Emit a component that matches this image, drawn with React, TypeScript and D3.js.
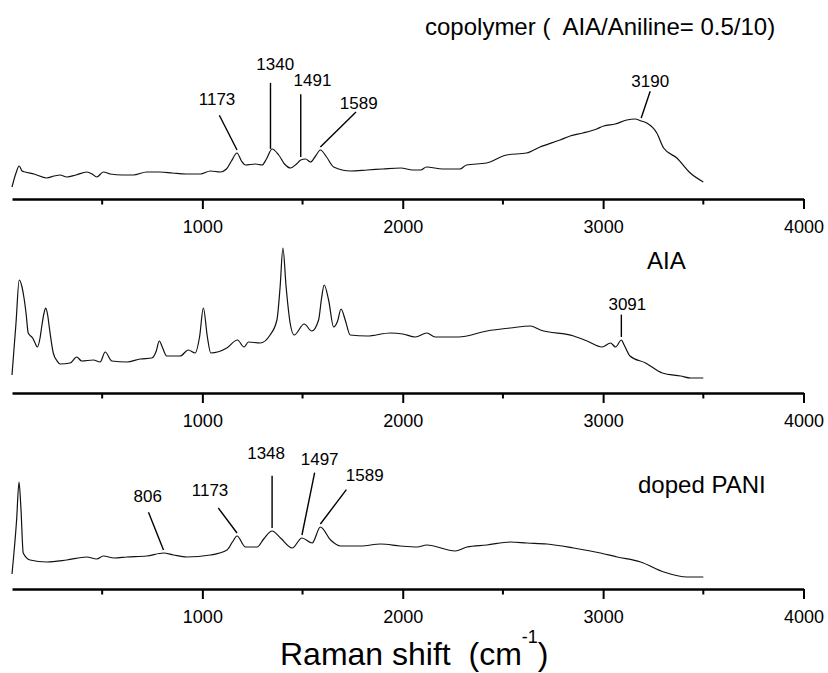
import React, { useEffect, useRef } from "react";
import * as d3 from "d3";

// x axis ticks (cm-1)
const majorTicks = [1000, 2000, 3000, 4000];
const minorTicks = [500, 1500, 2500, 3500];

// copolymer (AIA/Aniline = 0.5/10)
const copolymerShift = [
  50, 70, 86, 100, 115, 160, 223, 260, 290, 323, 370, 423, 450, 473, 506, 540,
  600, 655, 722, 789, 850, 920, 990, 1040, 1090, 1120, 1145, 1173, 1195, 1215,
  1265, 1298, 1320, 1348, 1381, 1410, 1440, 1470, 1491, 1515, 1540, 1565, 1589,
  1620, 1655, 1740, 1823, 1900, 1990, 2050, 2090, 2118, 2200, 2285, 2318, 2418,
  2518, 2618, 2685, 2785, 2835, 2900, 2968, 3002, 3060, 3118, 3160, 3190, 3218,
  3268, 3302, 3368, 3435, 3500,
];
const copolymerIntensity = [
  12, 26, 33, 28, 27, 25, 21, 23, 24, 22, 24, 27, 25, 22, 27, 25, 24, 24, 27,
  27, 26, 25, 25, 28, 27, 30, 38, 46, 38, 34, 35, 34, 40, 50, 44, 35, 31, 35,
  39, 40, 37, 43, 49, 42, 32, 28, 29, 30, 31, 29, 29, 32, 30, 30, 34, 36, 44,
  46, 52, 59, 63, 66, 70, 73, 75, 79, 80, 78, 76, 66, 51, 41, 26, 17,
];
const copolymerPeaks = [1173, 1340, 1491, 1589, 3190];

// AIA
const aiaShift = [
  50, 70, 86, 100, 110, 120, 131, 153, 165, 176, 190, 198, 210, 218, 228, 236,
  256, 275, 290, 340, 373, 398, 456, 490, 515, 548, 623, 690, 748, 770, 785,
  800, 822, 889, 930, 964, 986, 1005, 1025, 1042, 1122, 1175, 1208, 1230, 1288,
  1338, 1372, 1388, 1402, 1418, 1438, 1458, 1508, 1546, 1580, 1595, 1608, 1630,
  1655, 1675, 1692, 1713, 1738, 1822, 1938, 2000, 2063, 2120, 2162, 2278, 2420,
  2537, 2637, 2687, 2853, 2920, 2995, 3037, 3062, 3091, 3105, 3134, 3212, 3295,
  3387, 3437, 3500,
];
const aiaIntensity = [
  18, 70, 113, 106, 95, 80, 60, 55, 50, 46, 55, 66, 80, 85, 78, 66, 40, 32, 29,
  30, 36, 32, 33, 31, 41, 32, 31, 34, 35, 42, 52, 46, 37, 37, 43, 40, 56, 85,
  56, 40, 45, 53, 46, 51, 50, 58, 73, 106, 145, 106, 70, 58, 69, 62, 73, 95,
  108, 93, 66, 72, 84, 73, 58, 57, 60, 59, 56, 60, 56, 56, 62, 65, 67, 63, 57,
  52, 46, 50, 46, 53, 48, 37, 30, 20, 17, 15, 15,
];
const aiaPeaks = [3091];

// doped PANI
const paniShift = [
  50, 73, 85, 95, 106, 140, 223, 323, 423, 473, 506, 560, 623, 722, 806, 856,
  922, 1040, 1123, 1150, 1173, 1215, 1273, 1306, 1348, 1390, 1448, 1497, 1548,
  1589, 1640, 1690, 1790, 1890, 1988, 2072, 2120, 2262, 2320, 2420, 2537, 2620,
  2720, 2853, 2987, 3070, 3187, 3303, 3420, 3500,
];
const paniIntensity = [
  15, 69, 107, 79, 36, 29, 27, 29, 32, 30, 33, 31, 32, 33, 36, 34, 32, 34, 39,
  47, 53, 42, 42, 50, 58, 51, 41, 51, 46, 62, 49, 43, 43, 45, 43, 42, 44, 38,
  42, 44, 47, 46, 45, 41, 36, 32, 27, 17, 12, 12,
];
const paniPeaks = [806, 1173, 1348, 1497, 1589];

const panelTitles = ["copolymer (  AIA/Aniline= 0.5/10)", "AIA", "doped PANI"];

const width = 828;
const height = 673;
const font = "'Liberation Sans', Arial, Helvetica, sans-serif";

export default function App() {
  const ref = useRef<SVGSVGElement>(null);

  useEffect(() => {
    draw();
  }, []);

  const draw = () => {
    const svg = d3.select(ref.current);
    svg.selectAll("*").remove();

    const xScale = d3.scaleLinear().domain([50, 4000]).range([12, 803.5]);

    // leader layout: [dx top, dy top, dx label, dy label]
    const panels = [
      {
        title: panelTitles[0],
        shift: copolymerShift,
        intensity: copolymerIntensity,
        peaks: copolymerPeaks,
        axisY: 199,
        titleX: 425,
        titleY: 35,
        leaders: [
          [-17.7, -34.7, -2.3, -10],
          [0, -66, 4.7, -13.3],
          [0, -62.7, 11.7, -8.3],
          [35.6, -35, 2.7, -2.7],
          [9, -26.7, 0, -4],
        ],
      },
      {
        title: panelTitles[1],
        shift: aiaShift,
        intensity: aiaIntensity,
        peaks: aiaPeaks,
        axisY: 393,
        titleX: 647,
        titleY: 269,
        leaders: [[0, -22.4, 6, -4.3]],
      },
      {
        title: panelTitles[2],
        shift: paniShift,
        intensity: paniIntensity,
        peaks: paniPeaks,
        axisY: 589,
        titleX: 638,
        titleY: 493,
        leaders: [
          [-15, -37.7, -0.7, -10],
          [-18.7, -25, -8.3, -11.7],
          [0, -52.3, -6, -16.7],
          [12.7, -62.3, 5, -7.3],
          [26, -34.3, 18.3, -9],
        ],
      },
    ];

    panels.forEach((p) => {
      const yScale = d3
        .scaleLinear()
        .domain([0, 150])
        .range([p.axisY, p.axisY - 150]);

      const g = svg.append("g");

      const line = d3
        .line<number>()
        .x((d, i) => xScale(p.shift[i]))
        .y((d) => yScale(d))
        .curve(d3.curveMonotoneX);

      g.append("path")
        .attr("d", line(p.intensity))
        .attr("fill", "none")
        .attr("stroke", "#111")
        .attr("stroke-width", 1.2);

      // axis
      const axis = g.append("g").attr("transform", `translate(0, ${p.axisY})`);
      axis
        .call(
          d3
            .axisBottom(xScale)
            .tickValues(majorTicks)
            .tickSize(10)
            .tickSizeOuter(0)
            .tickPadding(11)
            .tickFormat(d3.format("d"))
        )
        .call((a) => a.select(".domain").attr("stroke-width", 2.6))
        .call((a) => a.selectAll(".tick line").attr("stroke-width", 2))
        .call((a) =>
          a
            .selectAll(".tick text")
            .attr("font-size", 18)
            .attr("font-family", font)
            .attr("fill", "#000")
        );
      axis
        .selectAll(".minor")
        .data(minorTicks)
        .enter()
        .append("line")
        .attr("x1", (d) => xScale(d))
        .attr("x2", (d) => xScale(d))
        .attr("y1", 0)
        .attr("y2", 5.5)
        .attr("stroke", "#000")
        .attr("stroke-width", 2);

      g.append("text")
        .attr("x", p.titleX)
        .attr("y", p.titleY)
        .attr("font-size", 24)
        .attr("font-family", font)
        .attr("fill", "#000")
        .style("white-space", "pre")
        .text(p.title);

      const at = (v: number) => {
        const i = d3.bisectLeft(p.shift, v);
        if (i <= 0) return p.intensity[0];
        if (i >= p.shift.length) return p.intensity[p.shift.length - 1];
        const t = (v - p.shift[i - 1]) / (p.shift[i] - p.shift[i - 1]);
        return p.intensity[i - 1] + t * (p.intensity[i] - p.intensity[i - 1]);
      };

      p.peaks.forEach((peak, i) => {
        const [dx, dy, lx, ly] = p.leaders[i];
        const x0 = xScale(peak);
        const y0 = yScale(at(peak)) - 3;
        const x1 = x0 + dx;
        const y1 = y0 + dy;
        g.append("line")
          .attr("x1", x0)
          .attr("y1", y0)
          .attr("x2", x1)
          .attr("y2", y1)
          .attr("stroke", "#000")
          .attr("stroke-width", 1.4);
        g.append("text")
          .attr("x", x1 + lx)
          .attr("y", y1 + ly)
          .attr("text-anchor", "middle")
          .attr("font-size", 17)
          .attr("font-family", font)
          .attr("fill", "#000")
          .text(peak);
      });
    });

    const title = svg
      .append("text")
      .attr("x", 280)
      .attr("y", 665)
      .attr("font-size", 32)
      .attr("font-family", font)
      .attr("fill", "#000")
      .style("white-space", "pre");
    title.append("tspan").text("Raman shift  (cm");
    title.append("tspan").attr("font-size", 18).attr("dy", -22).text("-1");
    title.append("tspan").attr("dy", 22).text(")");
  };

  return (
    <svg
      ref={ref}
      width={width}
      height={height}
      style={{ position: "absolute", left: 0, top: 0, background: "#fff" }}
    />
  );
}
